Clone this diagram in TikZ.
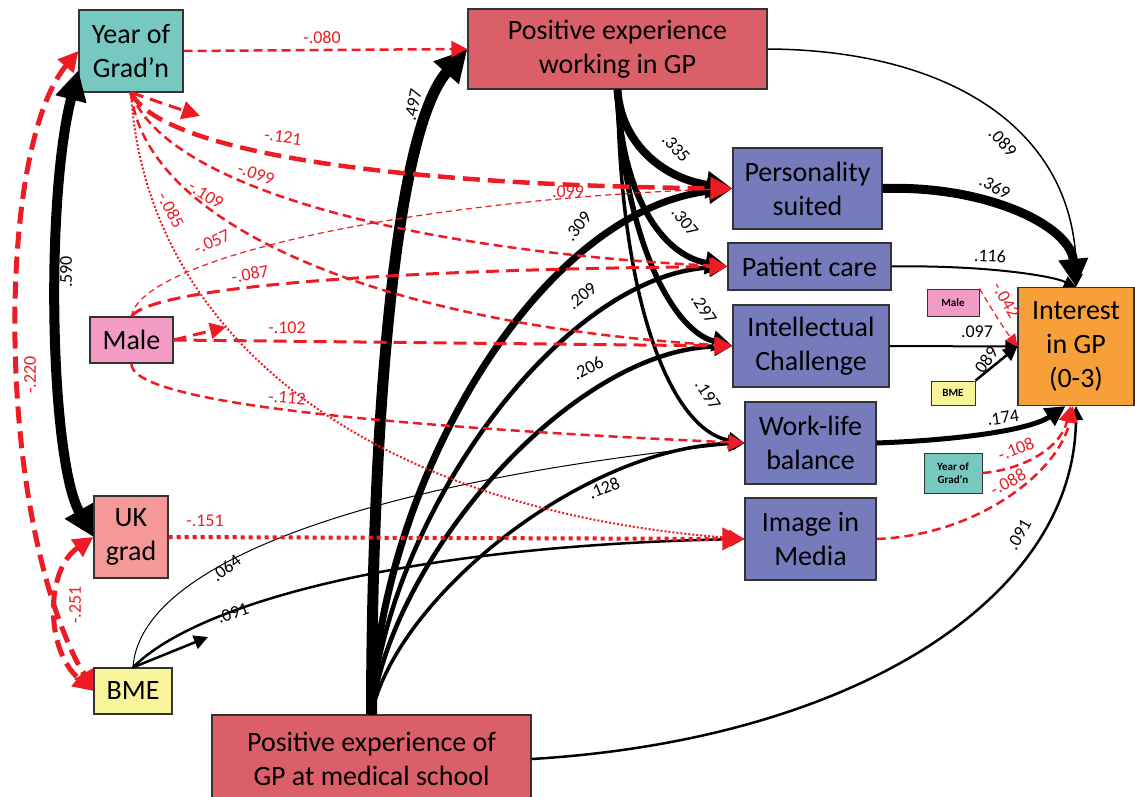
\documentclass[tikz,border=0pt]{standalone}
\usepackage{fontspec}
\setmainfont{Carlito}
\usetikzlibrary{arrows.meta}
\definecolor{gradteal}{RGB}{118,200,192}
\definecolor{expred}{RGB}{218,95,104}
\definecolor{medpurple}{RGB}{117,123,187}
\definecolor{outorange}{RGB}{247,160,58}
\definecolor{malepink}{RGB}{242,155,197}
\definecolor{ukpink}{RGB}{244,152,152}
\definecolor{bmeyellow}{RGB}{248,244,154}
\definecolor{arcred}{RGB}{237,28,36}
\tikzset{
  box/.style={draw=black!80,line width=1.2pt,align=center,inner sep=2pt,font=\fontsize{28}{34}\selectfont},
  minibox/.style={draw=black!80,line width=1pt,align=center,inner sep=1pt,font=\bfseries\fontsize{11}{13}\selectfont},
  lab/.style={font=\fontsize{18}{21}\selectfont,inner sep=1pt},
  arrowto/.style={-{Triangle[length=#1,width=#1]}},
  arrowboth/.style={{Triangle[length=#1,width=#1]}-{Triangle[length=#1,width=#1]}},
  rbig/.style={draw=arcred,line width=#1,dash pattern=on 17pt off 8pt},
  rdash/.style={draw=arcred,line width=#1,dash pattern=on 13pt off 7pt},
  rthin/.style={draw=arcred,line width=#1,dash pattern=on 9pt off 5pt},
  rdot/.style={draw=arcred,line width=#1,dash pattern=on #1 off #1},
}
\begin{document}
\begin{tikzpicture}[x=1pt,y=-1pt]
  \useasboundingbox (0,0) rectangle (1135,797);
  \foreach \nm/\cx/\cy/\w/\h/\col/\txt in {
    yog/131/51/104/82/gradteal/{Year of\\Grad’n},
    pewg/617.5/49/299/80/expred/{Positive experience\\working in GP},
    ps/807.5/188.5/149/81/medpurple/{Personality\\suited},
    pc/809.5/266.5/163/47/medpurple/{Patient care},
    ic/811/346/156/82/medpurple/{Intellectual\\Challenge},
    wlb/810.5/443/131/82/medpurple/{Work-life\\balance},
    im/810.5/539/131/82/medpurple/{Image in\\Media},
    igp/1076/346.5/116/118/outorange/{Interest\\in GP\\(0-3)},
    male/131.5/340/83/46/malepink/{Male},
    uk/131/537/74/82/ukpink/{UK\\grad},
    bme/133/691/78/46/bmeyellow/{BME},
    pems/371.5/759/319/88/expred/{Positive experience of\\GP at medical school}}
    \node[box,fill=\col,minimum width=\w,minimum height=\h] (\nm) at (\cx,\cy) {\txt};
  \foreach \nm/\cx/\cy/\w/\h/\col/\txt in {
    smale/953/302.5/52/27/malepink/{Male},
    sbme/953/393/44/24/bmeyellow/{BME},
    syog/953/473/58/40/gradteal/{Year of\\Grad’n}}
    \node[minibox,fill=\col,minimum width=\w,minimum height=\h] (\nm) at (\cx,\cy) {\txt};
  \coordinate (yogstub) at (200,116);
  \coordinate (malestub) at (226,327);
  \coordinate (bmestub) at (208,637);

  \draw[line width=10pt,arrowboth=30pt] (yog.200) .. controls (45,200) and (50,460) .. (uk.west);
  \draw[line width=11pt,arrowto=32pt] (pems.north) .. controls (372,420) and (395,130) .. (pewg.west);
  \draw[line width=7pt,arrowto=24pt] (pems.north) .. controls (380,480) and (540,210) .. (ps.west);
  \draw[line width=4.5pt,arrowto=18pt] (pems.north) .. controls (385,520) and (560,275) .. (pc.west);
  \draw[line width=4.5pt,arrowto=18pt] (pems.north) .. controls (390,560) and (570,350) .. (ic.west);
  \draw[line width=3.5pt,arrowto=16pt] (pems.north) .. controls (395,600) and (580,448) .. (wlb.west);
  \draw[line width=2.5pt,arrowto=14pt] (pems.east) .. controls (850,740) and (1075,600) .. (igp.south);
  \draw[line width=8pt,arrowto=26pt] (pewg.south) .. controls (620,140) and (660,178) .. (ps.west);
  \draw[line width=6pt,arrowto=22pt] (pewg.south) .. controls (620,190) and (660,255) .. (pc.west);
  \draw[line width=5.5pt,arrowto=20pt] (pewg.south) .. controls (622,230) and (670,330) .. (ic.west);
  \draw[line width=3.5pt,arrowto=16pt] (pewg.south) .. controls (620,300) and (670,430) .. (wlb.west);
  \draw[line width=1.5pt,arrowto=13pt] (pewg.east) .. controls (950,50) and (1078,130) .. (igp.north);
  \draw[line width=2pt,arrowto=12pt] (pc.east) .. controls (980,265) and (1050,275) .. (igp.north);
  \draw[line width=9pt,arrowto=28pt] (ps.east) .. controls (985,185) and (1070,225) .. (igp.north);
  \draw[line width=2pt,arrowto=12pt] (ic.east) -- (igp.west);
  \draw[line width=2.5pt,arrowto=14pt] (sbme.north east) -- (igp.west);
  \draw[line width=5pt,arrowto=20pt] (wlb.east) .. controls (960,440) and (1030,430) .. (igp.-100);
  \draw[line width=1pt,arrowto=12pt] (bme.north) .. controls (140,560) and (380,480) .. (wlb.west);
  \draw[line width=2.5pt,arrowto=14pt] (bme.north) .. controls (200,600) and (420,545) .. (im.west);
  \draw[line width=2.5pt,arrowto=14pt] (bme.north) -- (bmestub);

  \draw[rbig=5pt,arrowboth=20pt] (yog.west) .. controls (-5,150) and (-5,520) .. (bme.west);
  \draw[rbig=5pt,arrowboth=20pt] (uk.west) .. controls (45,570) and (45,650) .. (bme.west);
  \draw[rthin=2.5pt,arrowto=16pt] (yog.east) -- (pewg.west);
  \draw[rdash=3pt,arrowto=18pt] (yog.south) -- (yogstub);
  \draw[rbig=4.5pt,arrowto=22pt] (yog.south) .. controls (160,150) and (380,185) .. (ps.west);
  \draw[rthin=2.5pt,arrowto=16pt] (yog.south) .. controls (165,185) and (400,250) .. (pc.west);
  \draw[rthin=2.5pt,arrowto=16pt] (yog.south) .. controls (145,225) and (380,325) .. (ic.west);
  \draw[rdot=2pt,arrowto=16pt] (yog.south) .. controls (145,330) and (360,510) .. (im.west);
  \draw[draw=arcred,line width=1.2pt,dash pattern=on 6pt off 4pt,arrowto=12pt] (male.north) .. controls (140,260) and (400,200) .. (ps.west);
  \draw[rdash=3pt,arrowto=18pt] (male.north) .. controls (150,290) and (350,270) .. (pc.west);
  \draw[rdash=3pt,arrowto=18pt] (male.east) -- (ic.west);
  \draw[rdash=3pt,arrowto=16pt] (male.east) -- (malestub);
  \draw[rthin=2.5pt,arrowto=16pt] (male.south) .. controls (130,400) and (350,425) .. (wlb.west);
  \draw[rdot=4pt,arrowto=22pt] (uk.east) -- (im.west);
  \draw[draw=arcred,line width=1.2pt,dash pattern=on 6pt off 4pt,arrowto=12pt] (smale.north east) .. controls (995,315) and (1005,330) .. (igp.west);
  \draw[rthin=2.5pt,arrowto=16pt] (syog.east) .. controls (1020,470) and (1060,450) .. (igp.-95);
  \draw[rthin=2.5pt,arrowto=16pt] (im.east) .. controls (980,535) and (1060,470) .. (igp.-93);

  \foreach \x/\y/\r/\c/\t [count=\n] in {
    66/272/90/black/.590, 30/375/90/arcred/-.220, 75/605/90/arcred/-.251,
    322/37/0/arcred/-.080, 413/105/78/black/.497, 283/137/-8/arcred/-.121,
    256/174/-20/arcred/-.099, 206/195/-32/arcred/-.109, 171/210/-62/arcred/-.085,
    212/242/25/arcred/-.057, 568/192/0/arcred/.099, 250/274/10/arcred/-.087,
    287/328/0/arcred/-.102, 287/398/-5/arcred/-.112, 205/521/0/arcred/-.151,
    578/226/52/black/.309, 582/296/40/black/.209, 588/368/28/black/.206,
    604/488/22/black/.128, 226/568/38/black/.064, 233/613/20/black/.091,
    676/148/-48/black/.335, 685/222/-52/black/.307, 704/309/-57/black/.297,
    708/395/-57/black/.197, 1003/142/-47/black/.089, 995/187/-28/black/.369,
    990/256/-3/black/.116, 977/332/0/black/.097, 1006/300/-60/arcred/-.042,
    985/362/55/black/.089, 1003/418/8/black/.174, 1016/449/22/arcred/-.108,
    1008/482/28/arcred/-.088, 1019/535/60/black/.091}
    \node[lab,text=\c,rotate=\r] (w\n) at (\x,\y) {\t};
\end{tikzpicture}
\end{document}
